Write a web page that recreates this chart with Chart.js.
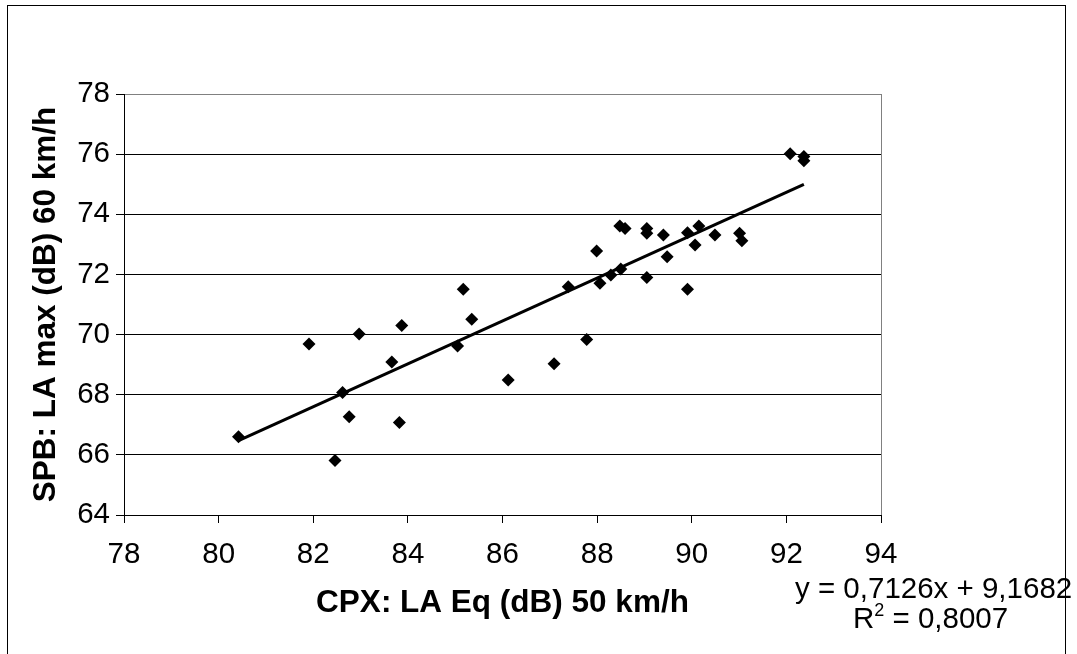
<!DOCTYPE html>
<html>
<head>
<meta charset="utf-8">
<script src="https://cdn.jsdelivr.net/npm/chart.js@4.4.0/dist/chart.umd.min.js"></script>
<style>
    html, body { margin: 0; padding: 0; background: #fff; }
    #wrap { width: 1077px; height: 654px; }
</style>
</head>
<body>
<div id="wrap"><canvas id="scatterChart" width="1077" height="654"></canvas></div>
<script>
// Data
// ========================
const cpxLaEq = [80.42, 81.91, 82.62, 82.46, 82.76, 82.97, 83.66, 83.87, 83.82, 85.05,
                 85.17, 85.35, 86.12, 87.09, 87.39, 87.78, 87.99, 88.06, 88.29, 88.50,
                 88.48, 88.59, 89.05, 89.05, 89.05, 89.40, 89.48, 89.91, 89.91, 90.07,
                 90.15, 90.49, 91.01, 91.06, 92.08, 92.37, 92.37];
const spbLaMax = [66.60, 69.69, 68.07, 65.81, 67.27, 70.02, 69.09, 70.30, 67.08, 69.62,
                  71.51, 70.51, 68.49, 69.03, 71.59, 69.84, 72.78, 71.71, 71.98, 72.18,
                  73.61, 73.53, 73.53, 73.37, 71.90, 73.31, 72.59, 73.39, 71.51, 72.98,
                  73.61, 73.31, 73.37, 73.12, 76.01, 75.92, 75.78];

const xTickValues = [78, 80, 82, 84, 86, 88, 90, 92, 94];
const yTickValues = [64, 66, 68, 70, 72, 74, 76, 78];

// Linear trendline as printed on the chart
const trendSlope = 0.7126;
const trendIntercept = 9.1682;
const trendR2 = 0.8007;

const xTitle = 'CPX: LA Eq (dB) 50 km/h';
const yTitle = 'SPB: LA max (dB) 60 km/h';

const FONT = '"Liberation Sans", Arial, Helvetica, sans-serif';

// Build chart data
const points = cpxLaEq.map((x, i) => ({ x: x, y: spbLaMax[i] }));
const minX = Math.min(...cpxLaEq);
const maxX = Math.max(...cpxLaEq);
const trendPoints = [minX, maxX].map(x => ({ x: x, y: trendSlope * x + trendIntercept }));

function decimalComma(v) {
    return v.toFixed(4).replace('.', ',');
}

// Outer frame, plot border and trendline label
const framePlugin = {
    id: 'frame',
    beforeDraw(chart) {
        const ctx = chart.ctx;
        ctx.save();
        ctx.fillStyle = '#fff';
        ctx.fillRect(0, 0, chart.width, chart.height);
        ctx.strokeStyle = '#000';
        ctx.lineWidth = 1;
        ctx.strokeRect(7.5, 5.5, 1058, 700);
        ctx.restore();
    },
    beforeDatasetsDraw(chart) {
        const { ctx, chartArea } = chart;
        ctx.save();
        ctx.strokeStyle = '#808080';
        ctx.lineWidth = 1;
        ctx.beginPath();
        ctx.moveTo(Math.round(chartArea.right) + 0.5, chartArea.top);
        ctx.lineTo(Math.round(chartArea.right) + 0.5, chartArea.bottom);
        ctx.stroke();
        ctx.restore();
    },
    afterDraw(chart) {
        const ctx = chart.ctx;
        ctx.save();
        ctx.fillStyle = '#000';
        ctx.textBaseline = 'alphabetic';
        ctx.textAlign = 'left';
        ctx.font = '29.5px ' + FONT;
        const eq = 'y = ' + decimalComma(trendSlope) + 'x + ' + decimalComma(trendIntercept);
        ctx.fillText(eq, 795, 598);

        let x = 853;
        ctx.fillText('R', x, 628);
        x += ctx.measureText('R').width;
        ctx.font = '18px ' + FONT;
        ctx.fillText('2', x, 616);
        x += ctx.measureText('2').width;
        ctx.font = '29.5px ' + FONT;
        ctx.fillText(' = ' + decimalComma(trendR2), x, 628);
        ctx.restore();
    }
};

Chart.defaults.font.family = FONT;
Chart.defaults.color = '#000';

const chart = new Chart(document.getElementById('scatterChart'), {
    type: 'scatter',
    data: {
        datasets: [
            {
                label: 'Linear trend',
                data: trendPoints,
                showLine: true,
                borderColor: '#000',
                borderWidth: 3,
                pointRadius: 0,
                fill: false
            },
            {
                label: 'SPB vs CPX',
                data: points,
                pointStyle: 'rectRot',
                pointRadius: 6.5,
                backgroundColor: '#000',
                borderColor: '#000',
                borderWidth: 0
            }
        ]
    },
    options: {
        responsive: false,
        animation: false,
        devicePixelRatio: 1,
        layout: {
            padding: { top: 94, right: 196, bottom: 0, left: 0 }
        },
        plugins: {
            legend: { display: false },
            tooltip: { enabled: false }
        },
        scales: {
            x: {
                type: 'linear',
                min: xTickValues[0],
                max: xTickValues[xTickValues.length - 1],
                afterBuildTicks: s => { s.ticks = xTickValues.map(v => ({ value: v })); },
                afterFit: s => { s.height = 139; },
                ticks: {
                    font: { size: 29.5 },
                    color: '#000',
                    padding: 14,
                    maxRotation: 0
                },
                grid: {
                    drawOnChartArea: false,
                    drawTicks: true,
                    tickLength: 8,
                    tickColor: '#000'
                },
                border: { color: '#000', width: 1 },
                title: {
                    display: true,
                    text: xTitle,
                    font: { size: 31.5, weight: 'bold' },
                    color: '#000',
                    padding: { top: 0, bottom: 32 }
                }
            },
            y: {
                type: 'linear',
                min: yTickValues[0],
                max: yTickValues[yTickValues.length - 1],
                afterBuildTicks: s => { s.ticks = yTickValues.map(v => ({ value: v })); },
                afterFit: s => { s.width = 124; },
                ticks: {
                    font: { size: 29.5 },
                    color: '#000',
                    padding: 6
                },
                grid: {
                    color: ctx => (ctx.tick && ctx.tick.value === yTickValues[yTickValues.length - 1]) ? '#808080' : '#000',
                    lineWidth: 1,
                    drawTicks: true,
                    tickLength: 8,
                    tickColor: '#000'
                },
                border: { color: '#000', width: 1 },
                title: {
                    display: true,
                    text: yTitle,
                    font: { size: 31.5, weight: 'bold' },
                    color: '#000',
                    padding: { top: 27, bottom: 0 }
                }
            }
        }
    },
    plugins: [framePlugin]
});
</script>
</body>
</html>
